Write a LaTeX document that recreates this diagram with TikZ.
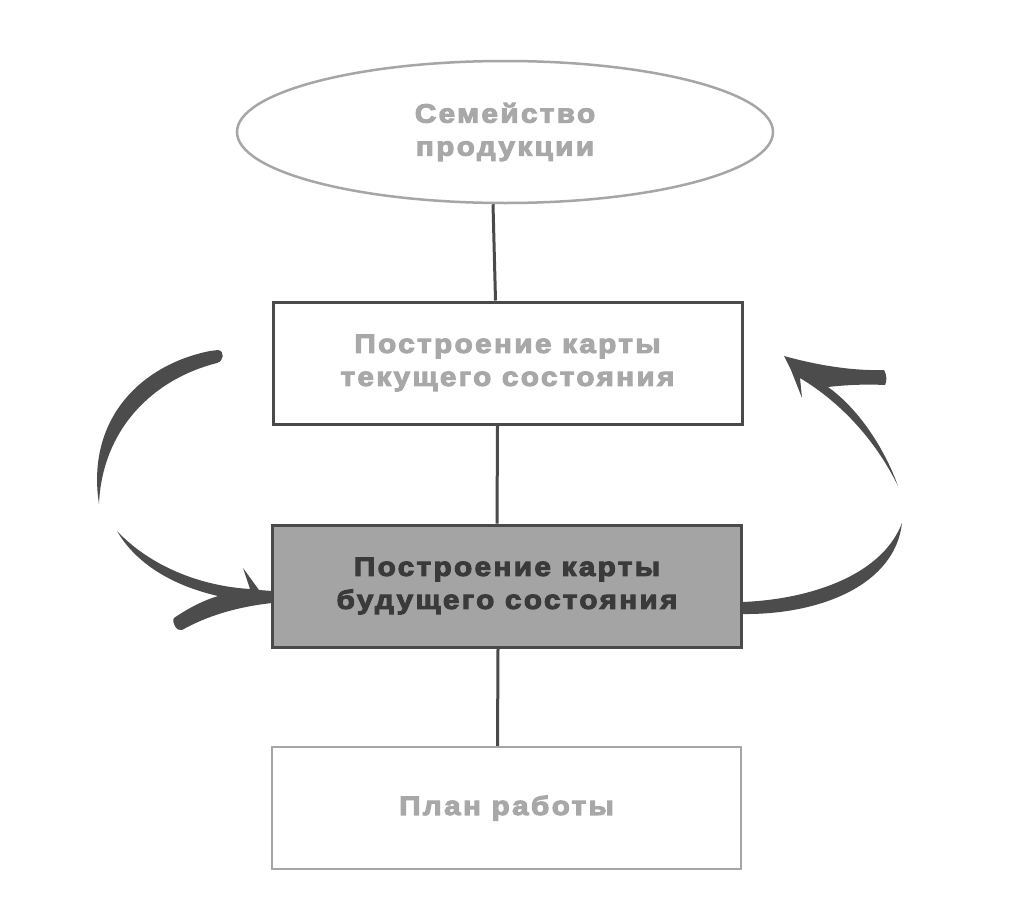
\documentclass[tikz,border=0pt]{standalone}
\usepackage{fontspec}
\newfontfamily\lblfont{Liberation Sans Bold}[FakeStretch=1.12, LetterSpace=9, FakeBold=4]
\usetikzlibrary{shapes.geometric}
\definecolor{boxline}{HTML}{4A4A4A}
\definecolor{lightline}{HTML}{A6A6A6}
\definecolor{lighttext}{HTML}{A8A8A8}
\definecolor{darktext}{HTML}{3A3A3A}
\definecolor{boxfill}{HTML}{A4A4A4}
\definecolor{arrowc}{HTML}{4C4C4C}
\newcommand\labelfont{\lblfont\fontsize{26.5}{33}\selectfont}
\begin{document}
\begin{tikzpicture}[x=1pt,y=-1pt,
  boxst/.style={draw=boxline, line width=3pt, minimum width=469pt, minimum height=122pt,
    inner sep=0pt, align=center, font=\labelfont, text=lighttext},
  planst/.style={boxst, draw=lightline, line width=2.5pt},
  futst/.style={boxst, fill=boxfill, text=darktext},
  ellst/.style={ellipse, draw=lightline, line width=2.5pt, minimum width=536pt, minimum height=142pt,
    inner sep=0pt, align=center, font=\labelfont, text=lighttext},
  conn/.style={draw=boxline, line width=3pt},
  swoosh/.style={fill=arrowc}]
\useasboundingbox (0,0) rectangle (1032,907);
\fill[white] (0,0) rectangle (1032,907);

\node[ellst] (fam) at (505,132) {Семейство\\продукции};
\node[boxst] (cur) at (507.5,363) {Построение карты\\текущего состояния};
\node[futst] (fut) at (507,586) {Построение карты\\будущего состояния};
\node[planst] (plan) at (506.5,808) {План работы};

\draw[conn] ([xshift=-12pt]fam.south) -- ([xshift=-12pt]cur.north);
\draw[conn] ([xshift=-10pt]cur.south) -- ([xshift=-10pt]fut.north);
\draw[conn] ([xshift=-9pt]fut.south) -- ([xshift=-9pt]plan.north);

% left swoosh, upper part
\fill[swoosh] (210,351) .. controls (140,365) and (86,420) .. (99,504)
  .. controls (102,432) and (150,380) .. (217,363)
  .. controls (224,361) and (225,351) .. (218,350) -- cycle;
% left swoosh, lower part with arrowhead
\fill[swoosh] (117,531) .. controls (150,566) and (200,586) .. (250,589)
  -- (243,568) -- (259,590) -- (272,591) -- (272,603)
  .. controls (235,607) and (205,617) .. (182,630)
  .. controls (177,632) and (171,622) .. (174,618)
  .. controls (190,607) and (205,600) .. (218,596)
  .. controls (170,585) and (135,562) .. (117,531) -- cycle;
% right swoosh, lower part
\fill[swoosh] (742,602) .. controls (800,600) and (880,580) .. (902,523)
  .. controls (895,585) and (820,615) .. (742,614) -- cycle;
% right swoosh, upper part with arrowhead
\fill[swoosh] (784,356) .. controls (820,366) and (855,371) .. (884,370)
  .. controls (887,375) and (887,381) .. (885,385)
  .. controls (865,384) and (845,385) .. (828,387)
  .. controls (860,410) and (885,450) .. (898,486)
  .. controls (878,445) and (845,405) .. (800,378)
  -- (802,398) -- (791,370) -- cycle;
\end{tikzpicture}
\end{document}
